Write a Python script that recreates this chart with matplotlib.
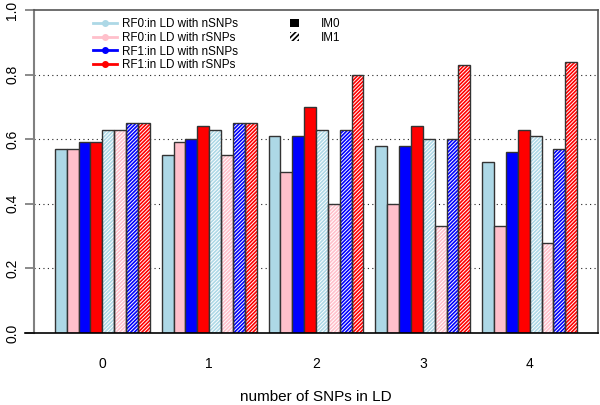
import matplotlib
matplotlib.use("Agg")
import matplotlib.pyplot as plt
import numpy as np
from matplotlib.lines import Line2D
from matplotlib.patches import Patch

plt.rcParams["font.family"] = ["Liberation Sans", "DejaVu Sans"]
plt.rcParams["hatch.linewidth"] = 1.2

# number of SNPs in LD (groups)
groups = ["0", "1", "2", "3", "4"]
series = ["RF0:in LD with nSNPs", "RF0:in LD with rSNPs",
          "RF1:in LD with nSNPs", "RF1:in LD with rSNPs"]
colors = ["#ADD8E6", "#FFC0CB", "#0000FF", "#FF0000"]

# IM0 (solid bars), one list per series, values per group
im0_rf0_n = [0.57, 0.55, 0.61, 0.58, 0.53]
im0_rf0_r = [0.57, 0.59, 0.50, 0.40, 0.33]
im0_rf1_n = [0.59, 0.60, 0.61, 0.58, 0.56]
im0_rf1_r = [0.59, 0.64, 0.70, 0.64, 0.63]

# IM1 (hatched bars)
im1_rf0_n = [0.63, 0.63, 0.63, 0.60, 0.61]
im1_rf0_r = [0.63, 0.55, 0.40, 0.33, 0.28]
im1_rf1_n = [0.65, 0.65, 0.63, 0.60, 0.57]
im1_rf1_r = [0.65, 0.65, 0.80, 0.83, 0.84]

im0 = [im0_rf0_n, im0_rf0_r, im0_rf1_n, im0_rf1_r]
im1 = [im1_rf0_n, im1_rf0_r, im1_rf1_n, im1_rf1_r]

yticks = [0.0, 0.2, 0.4, 0.6, 0.8, 1.0]

fig = plt.figure(figsize=(6.0, 4.05), dpi=100)
ax = fig.add_axes([34 / 600, 1 - 333 / 405, 564 / 600, 323 / 405])

# R barplot style layout: 8 bars per group, one bar gap between groups
n_bars = 8
step = n_bars + 1
starts = 1 + step * np.arange(len(groups))

edge = "#333333"
hatch = "/" * 9
for j in range(4):
    x = starts + j + 0.5
    ax.bar(x, im0[j], width=1.0, color=colors[j], edgecolor=edge,
           linewidth=1.0, zorder=3)
for j in range(4):
    x = starts + 4 + j + 0.5
    ax.bar(x, im1[j], width=1.0, color="white", edgecolor=colors[j],
           hatch=hatch, linewidth=0, zorder=3)
    ax.bar(x, im1[j], width=1.0, fill=False, edgecolor=edge,
           linewidth=1.0, zorder=4)

# dotted grid
for yv in yticks[1:-1]:
    ax.axhline(yv, color="#222222", linestyle=(0, (1, 3)), linewidth=0.8, zorder=1)

ax.set_xlim(-0.76, 46.76)
ax.set_ylim(0, 1)

ax.set_xticks(starts + 4)
ax.set_xticklabels(groups, fontsize=10)
ax.tick_params(axis="x", length=0, pad=17)

ax.set_yticks(yticks)
ax.set_yticklabels([f"{v:.1f}" for v in yticks], fontsize=10,
                   rotation=90, va="center")
ax.tick_params(axis="y", length=6.5, color="#777777", width=1.2, pad=4)

for s in ["top", "right"]:
    ax.spines[s].set_color("#555555")
    ax.spines[s].set_linewidth(1.2)
ax.spines["left"].set_color("#808080")
ax.spines["left"].set_linewidth(1.5)
ax.spines["bottom"].set_visible(False)
ax.plot([-0.016, 1], [0, 0], transform=ax.transAxes, color="black",
        linewidth=1.2, clip_on=False, zorder=5)

ax.set_xlabel("number of SNPs in LD", fontsize=11, labelpad=14)

# legends
h1 = [Line2D([0], [0], color=c, marker="o", markersize=4, linewidth=2)
      for c in colors]
leg1 = ax.legend(h1, series, loc="upper left", bbox_to_anchor=(0.105, 0.975),
                 frameon=False, fontsize=8.4, handlelength=2.0,
                 handletextpad=0.5, labelspacing=0.15, borderpad=0,
                 borderaxespad=0)
ax.add_artist(leg1)

h2 = [Patch(facecolor="black", edgecolor="black", linewidth=0),
      Patch(facecolor="white", edgecolor="black", hatch="//////", linewidth=0)]
ax.legend(h2, ["IM0", "IM1"], loc="upper left", bbox_to_anchor=(0.454, 0.975),
          frameon=False, fontsize=8.4, handlelength=0.75, handleheight=0.75,
          handletextpad=1.9, labelspacing=0.15, borderpad=0, borderaxespad=0)

fig.savefig("out.png", dpi=100)
